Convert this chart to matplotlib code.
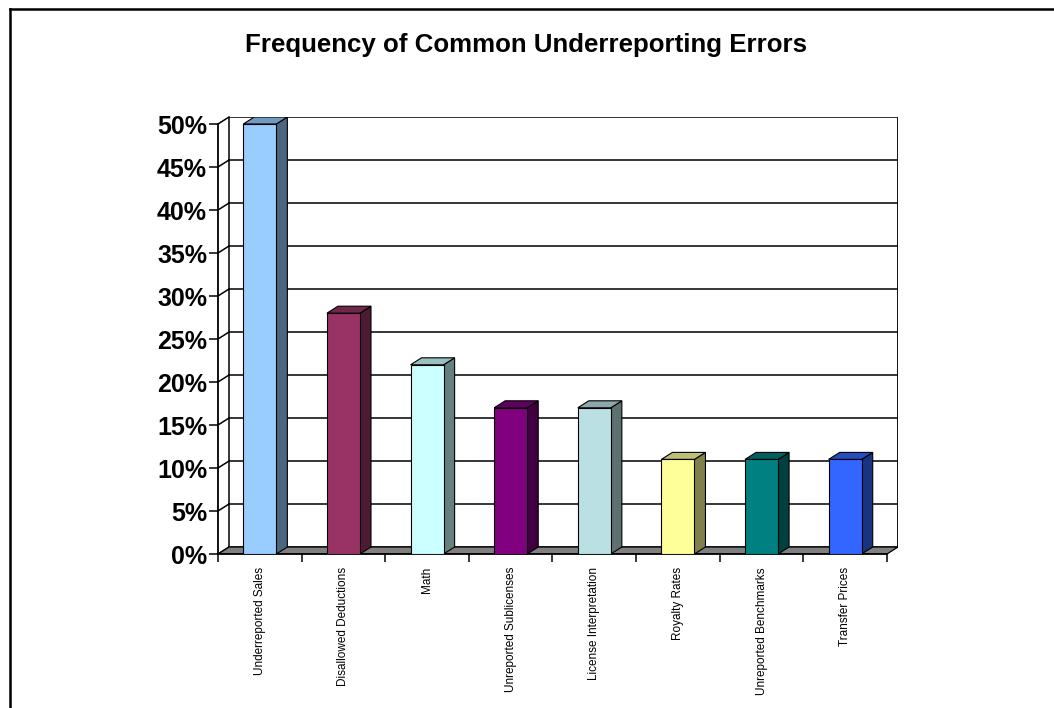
import matplotlib
matplotlib.use("Agg")
import matplotlib.pyplot as plt
from matplotlib.patches import Polygon, Rectangle
from matplotlib.lines import Line2D
from matplotlib.colors import to_rgb
import numpy as np

plt.rcParams['font.family'] = ['Liberation Sans', 'DejaVu Sans']

categories = ["Underreported Sales", "Disallowed Deductions", "Math",
              "Unreported Sublicenses", "License Interpretation", "Royalty Rates",
              "Unreported Benchmarks", "Transfer Prices"]
frequency = [50, 28, 22, 17, 17, 11, 11, 11]
bar_colors = ['#99CCFF', '#993366', '#CCFFFF', '#800080',
              '#BBE0E3', '#FFFF99', '#008080', '#3366FF']
y_ticks = list(range(0, 55, 5))

# depth of the fake 3d box, in data units
DX = 0.132
DY = 0.814
BAR_W = 0.395


def shade(color, f):
    r, g, b = to_rgb(color)
    return (r * f, g * f, b * f)


fig = plt.figure(figsize=(10.54, 7.08), dpi=100)
fig.patch.set_facecolor('white')

# outer chart border (left and top only)
bx, by = 10 / 1054, 1 - 9 / 708
fig.add_artist(Line2D([bx, bx], [0, by], color='black', lw=1.8, transform=fig.transFigure))
fig.add_artist(Line2D([bx, 1], [by, by], color='black', lw=1.8, transform=fig.transFigure))

fig.text(0.4995, 1 - 45 / 708, "Frequency of Common Underreporting Errors",
         ha='center', va='center', fontsize=18.6, fontweight='bold')

ax = fig.add_axes([218 / 1054, 1 - 554 / 708, 680 / 1054, 437 / 708])
n = len(categories)
ax.set_xlim(0, n + DX)
ax.set_ylim(0, 50 + DY)
for s in ax.spines.values():
    s.set_visible(False)

# back wall gridlines and the diagonals joining them to the front axis
for v in y_ticks:
    ax.plot([DX, n + DX], [v + DY, v + DY], color='black', lw=1.1, zorder=1)
    ax.plot([0, DX], [v, v + DY], color='black', lw=1.1, zorder=1, clip_on=False)
ax.plot([DX, DX], [DY, 50 + DY], color='black', lw=1.1, zorder=1)
ax.plot([n + DX, n + DX], [DY, 50 + DY], color='black', lw=1.3, zorder=1)

# floor
ax.add_patch(Polygon([(0, 0), (n, 0), (n + DX, DY), (DX, DY)], closed=True,
                     facecolor='#808080', edgecolor='black', lw=0.9, zorder=2))

# front axis line
ax.plot([0, 0], [0, 50], color='black', lw=1.3, zorder=3, clip_on=False)
ax.plot([0, n], [0, 0], color='black', lw=1.3, zorder=3, clip_on=False)

for i, (v, c) in enumerate(zip(frequency, bar_colors)):
    x0 = i + 0.5 - BAR_W / 2
    x1 = i + 0.5 + BAR_W / 2
    ax.add_patch(Polygon([(x1, 0), (x1 + DX, DY), (x1 + DX, v + DY), (x1, v)], closed=True,
                         facecolor=shade(c, 0.5), edgecolor='black', lw=0.8, zorder=4))
    ax.add_patch(Polygon([(x0, v), (x1, v), (x1 + DX, v + DY), (x0 + DX, v + DY)], closed=True,
                         facecolor=shade(c, 0.75), edgecolor='black', lw=0.8, zorder=4))
    ax.add_patch(Rectangle((x0, 0), BAR_W, v, facecolor=c, edgecolor='black',
                           lw=0.8, zorder=5))

ax.set_yticks(y_ticks)
ax.set_yticklabels(["{}%".format(v) for v in y_ticks], fontsize=18, fontweight='bold')
ax.tick_params(axis='y', direction='out', length=6.5, width=1.1, pad=1.4)

ax.set_xticks(np.arange(0, n + 1))
ax.set_xticklabels([])
ax.tick_params(axis='x', which='major', direction='out', length=6, width=1.1)
ax.set_xticks(np.arange(n) + 0.5, minor=True)
ax.set_xticklabels(categories, minor=True, rotation=90, fontsize=8.5)
ax.tick_params(axis='x', which='minor', length=0, pad=9.4)

fig.savefig("out.png", dpi=100, facecolor='white')
